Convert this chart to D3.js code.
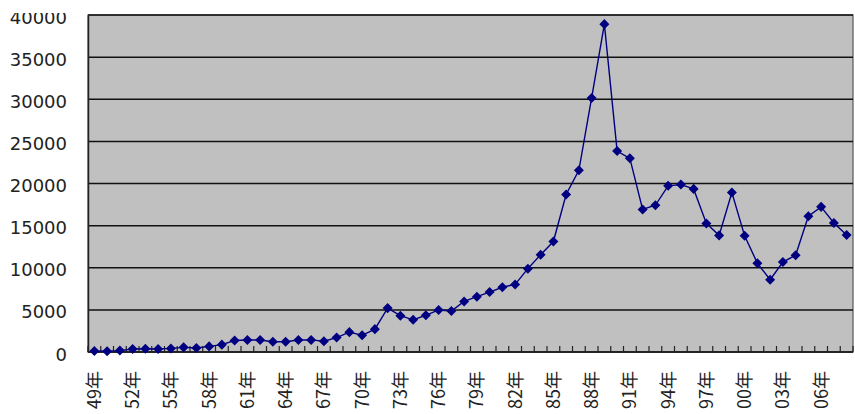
<!DOCTYPE html>
<html>
<head>
<meta charset="utf-8">
<script src="https://cdn.jsdelivr.net/npm/d3@7"></script>
<style>
  body { margin: 0; background: #fff; }
  svg { display: block; }
</style>
</head>
<body>
<div id="chart"></div>
<script>
// year-end values, 1949 - 2008
var years = [1949, 1950, 1951, 1952, 1953, 1954, 1955, 1956, 1957, 1958,
	1959, 1960, 1961, 1962, 1963, 1964, 1965, 1966, 1967, 1968,
	1969, 1970, 1971, 1972, 1973, 1974, 1975, 1976, 1977, 1978,
	1979, 1980, 1981, 1982, 1983, 1984, 1985, 1986, 1987, 1988,
	1989, 1990, 1991, 1992, 1993, 1994, 1995, 1996, 1997, 1998,
	1999, 2000, 2001, 2002, 2003, 2004, 2005, 2006, 2007, 2008];

var values = [110, 102, 166, 363, 378, 356, 426, 549, 475, 667,
	875, 1357, 1433, 1420, 1225, 1217, 1418, 1433, 1283, 1715,
	2359, 1987, 2714, 5208, 4307, 3817, 4359, 4991, 4866, 6002,
	6569, 7116, 7682, 8017, 9894, 11543, 13113, 18701, 21564, 30159,
	38916, 23849, 22984, 16925, 17417, 19723, 19868, 19361, 15259, 13842,
	18934, 13786, 10543, 8579, 10677, 11489, 16111, 17226, 15308, 13900];

var yTicks = [0, 5000, 10000, 15000, 20000, 25000, 30000, 35000, 40000];
var labelYears = [1949, 1952, 1955, 1958, 1961, 1964, 1967, 1970, 1973, 1976,
	1979, 1982, 1985, 1988, 1991, 1994, 1997, 2000, 2003, 2006];

var width = 855;
var height = 414;
var plot = {left: 88, right: 853, top: 15, bottom: 352};

var data = years.map((y, i) => ({year: y, value: values[i]}));

var svg = d3.select("#chart").append("svg")
	.attr("width", width)
	.attr("height", height);

/* Scale */
var xScale = d3.scaleBand()
	.domain(years)
	.range([plot.left, plot.right])
	.padding(0);

var yScale = d3.scaleLinear()
	.domain([0, 40000])
	.range([plot.bottom, plot.top]);

// plot area
svg.append("rect")
	.attr("x", plot.left)
	.attr("y", plot.top)
	.attr("width", plot.right - plot.left)
	.attr("height", plot.bottom - plot.top)
	.attr("fill", "#c0c0c0")
	.attr("stroke", "#555")
	.attr("stroke-width", 1.2);

// gridlines
svg.append("g")
	.selectAll("line")
	.data(yTicks).enter()
	.append("line")
	.attr("x1", plot.left)
	.attr("x2", plot.right)
	.attr("y1", d => yScale(d))
	.attr("y2", d => yScale(d))
	.attr("stroke", "#111")
	.attr("stroke-width", 1.5);

/* y axis labels (top one is cut off in the original) */
svg.append("clipPath")
	.attr("id", "yclip")
	.append("rect")
	.attr("x", -plot.left).attr("y", 13)
	.attr("width", plot.left + 2).attr("height", height);

var yAxis = d3.axisLeft(yScale)
	.tickValues(yTicks)
	.tickSize(0)
	.tickPadding(21)
	.tickFormat(d3.format("d"));

svg.append("g")
	.attr("class", "yaxis")
	.attr("clip-path", "url(#yclip)")
	.attr("transform", `translate(${plot.left}, 0)`)
	.call(yAxis)
	.call(g => g.select(".domain").attr("stroke", "#222").attr("stroke-width", 1.5))
	.selectAll("text")
	.attr("dy", "0.45em")
	.style("font-family", "DejaVu Sans, sans-serif")
	.style("font-size", "18px")
	.attr("fill", "#222");

/* x axis: inside ticks at category boundaries */
var xAxisG = svg.append("g").attr("class", "xaxis");

xAxisG.append("line")
	.attr("x1", plot.left).attr("x2", plot.right)
	.attr("y1", plot.bottom).attr("y2", plot.bottom)
	.attr("stroke", "#222").attr("stroke-width", 1.5);

xAxisG.selectAll("line.tick")
	.data(years.concat(["end"])).enter()
	.append("line")
	.attr("class", "tick")
	.attr("x1", d => d === "end" ? plot.right : xScale(d))
	.attr("x2", d => d === "end" ? plot.right : xScale(d))
	.attr("y1", plot.bottom)
	.attr("y2", plot.bottom - 6)
	.attr("stroke", "#222")
	.attr("stroke-width", 1.2);

var xAxis = d3.axisBottom(xScale)
	.tickValues(labelYears)
	.tickSize(0)
	.tickFormat(d => String(d % 100).padStart(2, "0") + "年");

svg.append("g")
	.attr("transform", `translate(0, ${plot.bottom})`)
	.call(xAxis)
	.call(g => g.select(".domain").remove())
	.selectAll("text")
	.attr("transform", "rotate(-90)")
	.attr("text-anchor", "end")
	.attr("x", -19)
	.attr("y", 0)
	.attr("dy", "0.36em")
	.style("font-family", "'Noto Sans CJK JP', sans-serif")
	.style("font-size", "18px")
	.attr("fill", "#222");

/* Line */
var line = d3.line()
	.x(d => xScale(d.year) + xScale.bandwidth() / 2)
	.y(d => yScale(d.value));

svg.append("path")
	.datum(data)
	.attr("d", line)
	.attr("fill", "none")
	.attr("stroke", "#000080")
	.attr("stroke-width", 1.4);

/* diamond markers */
var diamond = d3.symbol().type(d3.symbolDiamond2).size(64);

svg.append("g")
	.selectAll("path")
	.data(data).enter()
	.append("path")
	.attr("d", diamond)
	.attr("transform", d => `translate(${xScale(d.year) + xScale.bandwidth() / 2}, ${yScale(d.value)})`)
	.attr("fill", "#000080");
</script>
</body>
</html>
